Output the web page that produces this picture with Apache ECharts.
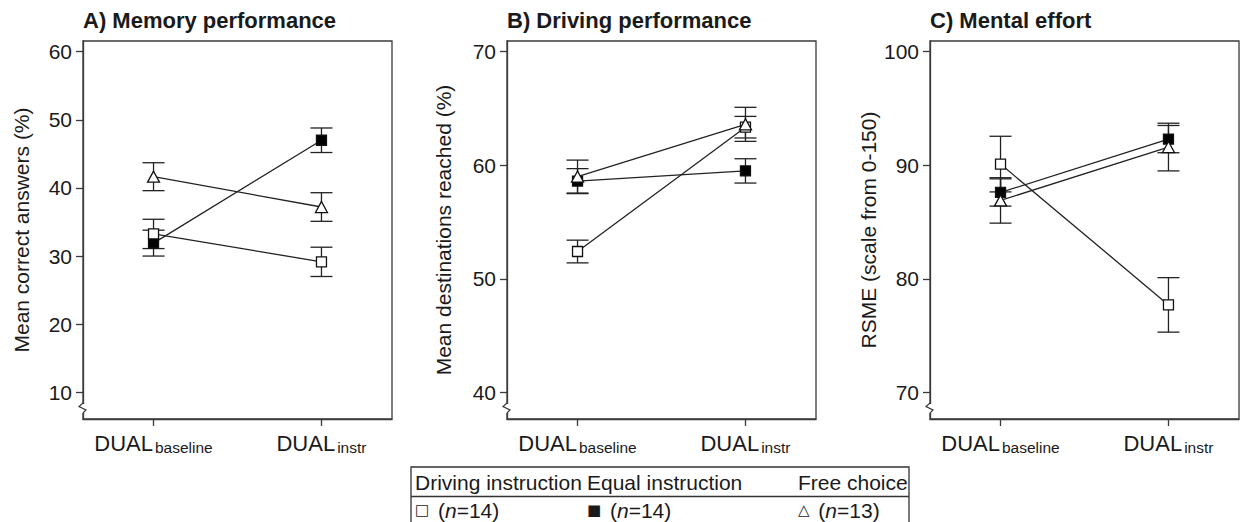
<!DOCTYPE html>
<html><head><meta charset="utf-8">
<script src="https://cdn.jsdelivr.net/npm/echarts@6/dist/echarts.min.js"></script>
<style>html,body{margin:0;padding:0;background:#fff}#c{width:1245px;height:522px}</style>
</head><body><div id="c"></div>
<script>
// ---- data ----
const catMain = ['DUAL', 'DUAL'];
const catSub = ['baseline', 'instr'];
const groups = ['Driving instruction', 'Equal instruction', 'Free choice'];
const groupSymbols = ['\u25A1', '\u25A0', '\u25B3'];
const groupN = [14, 14, 13];
const panelTitles = ['A) Memory performance', 'B) Driving performance', 'C) Mental effort'];
const yNames = ['Mean correct answers (%)', 'Mean destinations reached (%)', 'RSME (scale from 0-150)'];
const yTicksA = [10, 20, 30, 40, 50, 60];
const yTicksB = [40, 50, 60, 70];
const yTicksC = [70, 80, 90, 100];

// A) Memory performance: means and error half-widths
const memDriving = [33.25, 29.15], memDrivingErr = [2.15, 2.15];
const memEqual = [31.9, 47.0], memEqualErr = [1.9, 1.8];
const memFree = [41.65, 37.2], memFreeErr = [2.05, 2.1];
// B) Driving performance
const drvDriving = [52.4, 63.35], drvDrivingErr = [1.0, 0.95];
const drvEqual = [58.6, 59.5], drvEqualErr = [1.1, 1.07];
const drvFree = [59.0, 63.6], drvFreeErr = [1.45, 1.5];
// C) Mental effort
const effDriving = [90.1, 77.7], effDrivingErr = [2.45, 2.4];
const effEqual = [87.6, 92.3], effEqualErr = [1.2, 1.2];
const effFree = [86.9, 91.6], effFreeErr = [2.0, 2.1];

// ---- layout / style ----
const FONT = '"Liberation Sans", Arial, Helvetica, sans-serif';
const TXT = '#1a1a1a';
const gridLefts = [83, 507, 930];
const gridTop = 41, gridW = 309, gridH = 378;
const yRanges = [[6.08, 61.57], [37.65, 70.94], [67.65, 100.94]];
const nameGaps = [51, 53, 51];
const panels = [
  {ticks: yTicksA, d: [memDriving, memEqual, memFree], e: [memDrivingErr, memEqualErr, memFreeErr]},
  {ticks: yTicksB, d: [drvDriving, drvEqual, drvFree], e: [drvDrivingErr, drvEqualErr, drvFreeErr]},
  {ticks: yTicksC, d: [effDriving, effEqual, effFree], e: [effDrivingErr, effEqualErr, effFreeErr]}
];
const markerStyles = [
  {symbol: 'rect', size: 10, fill: '#fff'},
  {symbol: 'rect', size: 10, fill: '#000'},
  {symbol: 'triangle', size: [12, 11], fill: '#fff'}
];
const zOrder = [4, 3, 5];

function renderErr(params, api) {
  const x = api.value(0), lo = api.value(1), hi = api.value(2);
  const pLo = api.coord([x, lo]), pHi = api.coord([x, hi]);
  const w = 11;
  const style = {stroke: '#222', lineWidth: 1.3, fill: null};
  return {type: 'group', children: [
    {type: 'line', shape: {x1: pLo[0], y1: pLo[1], x2: pHi[0], y2: pHi[1]}, style: style},
    {type: 'line', shape: {x1: pLo[0] - w, y1: pLo[1], x2: pLo[0] + w, y2: pLo[1]}, style: style},
    {type: 'line', shape: {x1: pHi[0] - w, y1: pHi[1], x2: pHi[0] + w, y2: pHi[1]}, style: style}
  ]};
}

const grid = [], xAxis = [], yAxis = [], series = [], title = [], graphic = [];
panels.forEach((p, i) => {
  grid.push({left: gridLefts[i], top: gridTop, width: gridW, height: gridH,
    show: true, borderColor: '#3a3a3a', borderWidth: 1.3, backgroundColor: '#fff'});
  title.push({text: panelTitles[i], left: gridLefts[i], top: 9, padding: 0,
    textStyle: {fontFamily: FONT, fontWeight: 'bold', fontSize: 22, color: TXT}});
  xAxis.push({type: 'value', gridIndex: i, min: -0.42, max: 1.42,
    splitLine: {show: false},
    axisLine: {show: true, onZero: false, lineStyle: {color: '#3a3a3a', width: 1.3}},
    axisTick: {show: true, customValues: [0, 1], length: 7, inside: false, lineStyle: {color: '#3a3a3a', width: 1.3}},
    axisLabel: {show: true, customValues: [0, 1], margin: 12,
      formatter: v => { const k = Math.round(v); return '{m|' + catMain[k] + '}{s|' + catSub[k] + '}'; },
      rich: {
        m: {fontFamily: FONT, fontSize: 22, color: TXT},
        s: {fontFamily: FONT, fontSize: 15.5, color: TXT, padding: [8, 0, 0, 2]}
      }}
  });
  yAxis.push({type: 'value', gridIndex: i, min: yRanges[i][0], max: yRanges[i][1],
    name: yNames[i], nameLocation: 'middle', nameGap: nameGaps[i], nameRotate: 90,
    nameTextStyle: {fontFamily: FONT, fontSize: 21, color: TXT},
    splitLine: {show: false},
    axisLine: {show: true, onZero: false, lineStyle: {color: '#3a3a3a', width: 1.3}},
    axisTick: {show: true, customValues: p.ticks, length: 7, lineStyle: {color: '#3a3a3a', width: 1.3}},
    axisLabel: {show: true, customValues: p.ticks, margin: 11, fontFamily: FONT, fontSize: 21, color: TXT}
  });
  p.d.forEach((means, g) => {
    const errs = p.e[g];
    series.push({type: 'custom', xAxisIndex: i, yAxisIndex: i, z: 2, silent: true,
      renderItem: renderErr,
      data: means.map((m, k) => [k, m - errs[k], m + errs[k]])});
  });
  p.d.forEach((means, g) => {
    const ms = markerStyles[g];
    series.push({type: 'line', xAxisIndex: i, yAxisIndex: i, z: zOrder[g],
      name: groups[g],
      data: means.map((m, k) => [k, m]),
      symbol: ms.symbol, symbolSize: ms.size, showSymbol: true,
      lineStyle: {color: '#222', width: 1.3},
      itemStyle: {color: ms.fill, borderColor: '#111', borderWidth: 1.3, opacity: 1}
    });
  });
  // axis break mark on the y axis
  const x0 = gridLefts[i], yb = gridTop + gridH;
  graphic.push({type: 'rect', z: 50, shape: {x: x0 - 2, y: yb - 15, width: 4, height: 9},
    style: {fill: '#fff'}});
  graphic.push({type: 'polyline', z: 51,
    shape: {points: [[x0, yb - 16], [x0 - 4, yb - 12.5], [x0 + 3, yb - 9], [x0, yb - 6]]},
    style: {stroke: '#3a3a3a', lineWidth: 1.2, fill: null}});
});

// legend table
const lgX = 411, lgY = 467, lgW = 498, lgDiv = 496.5;
const colX = [415, 587, 798];
graphic.push({type: 'rect', z: 40, shape: {x: lgX, y: lgY, width: lgW, height: 80},
  style: {fill: '#fff', stroke: '#333', lineWidth: 1.3}});
graphic.push({type: 'line', z: 41, shape: {x1: lgX, y1: lgDiv, x2: lgX + lgW, y2: lgDiv},
  style: {stroke: '#333', lineWidth: 1.3}});
groups.forEach((g, k) => {
  graphic.push({type: 'text', z: 42, x: colX[k], y: 482,
    style: {text: g, fontFamily: FONT, fontSize: 21, fill: TXT, verticalAlign: 'middle', align: 'left'}});
  graphic.push({type: 'text', z: 42, x: colX[k], y: 510,
    style: {text: '{sym|' + groupSymbols[k] + '}{t| (}{i|n}{t|=' + groupN[k] + ')}',
      verticalAlign: 'middle', align: 'left',
      rich: {
        sym: {fontFamily: '"DejaVu Sans", sans-serif', fontSize: 15, fill: TXT, color: TXT, padding: [0, 3, 0, 0]},
        t: {fontFamily: FONT, fontSize: 21, fill: TXT, color: TXT},
        i: {fontFamily: FONT, fontSize: 21, fontStyle: 'italic', fill: TXT, color: TXT}
      }}});
});

const chart = echarts.init(document.getElementById('c'), null, {renderer: 'svg', width: 1245, height: 522});
chart.setOption({animation: false, backgroundColor: '#fff', title, grid, xAxis, yAxis, series, graphic});
</script>
</body></html>
